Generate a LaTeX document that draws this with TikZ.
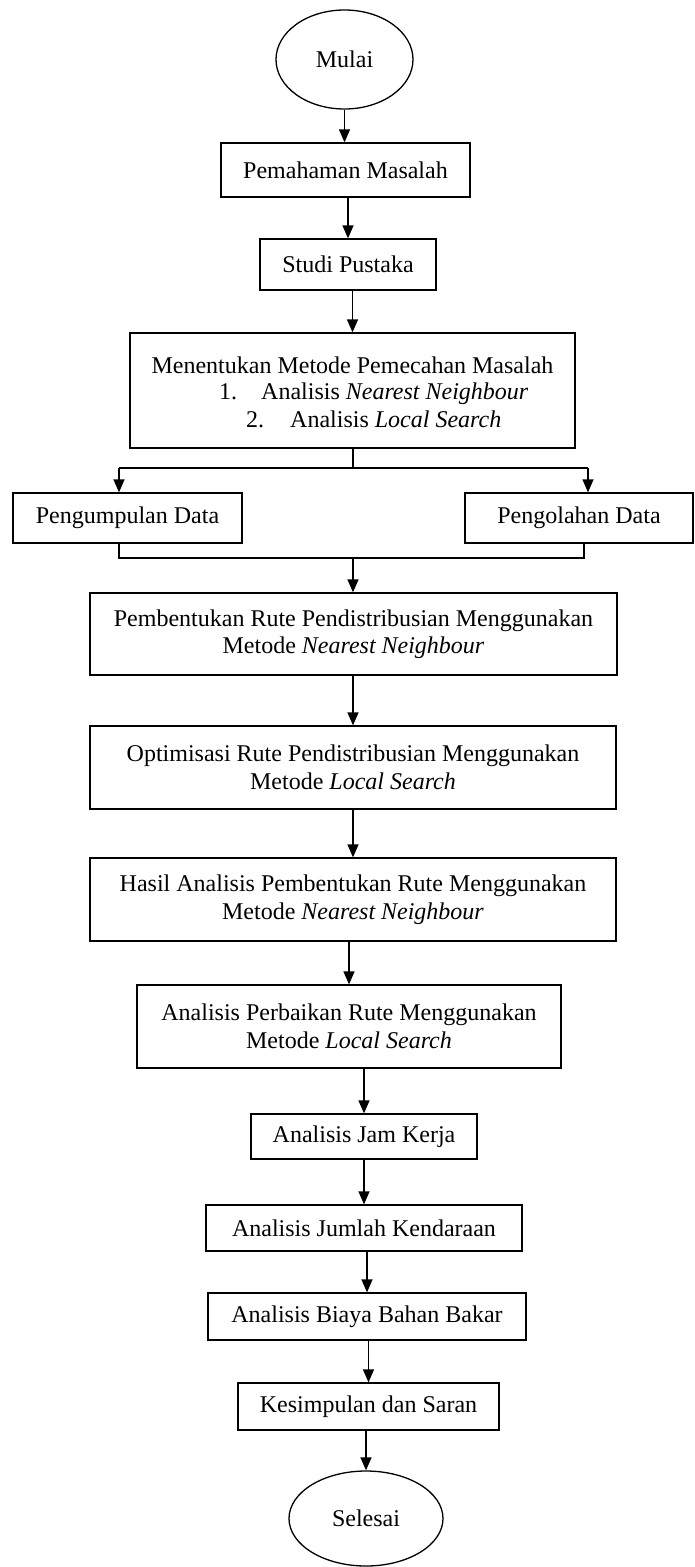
\documentclass[tikz,border=0pt]{standalone}
\usepackage{fontspec}
\setmainfont{Liberation Serif}
\usetikzlibrary{arrows.meta,shapes.geometric}
\newcommand\flowfont{\fontsize{24}{27.5}\selectfont}
\tikzset{
  box/.style={draw, line width=1.3pt, inner sep=0pt, align=center, font=\flowfont},
  oval/.style={draw, ellipse, line width=1.3pt, inner sep=0pt, font=\flowfont},
  txt/.style={inner sep=0pt, font=\flowfont},
  arr/.style={line width=1.3pt, -{Triangle[length=13pt,width=11pt]}},
  ln/.style={line width=1.3pt}
}
\begin{document}
\begin{tikzpicture}[x=1pt,y=-1pt]
\useasboundingbox (0,0) rectangle (694,1567);
\node[oval, minimum width=137, minimum height=99] (mulai) at (344.5,59.5) {Mulai};
\node[box, minimum width=249, minimum height=54] (pem) at (345.5,170) {Pemahaman Masalah};
\node[box, minimum width=176, minimum height=51] (studi) at (348,264.5) {Studi Pustaka};
\node[box, minimum width=445, minimum height=115] (ment) at (352.5,390.5) {};
\node[txt, anchor=base] (m1) at (352.5,373) {Menentukan Metode Pemecahan Masalah};
\node[txt, anchor=base west] (n1) at (219,399) {1.};
\node[txt, anchor=base west] (a1) at (261,399) {Analisis \textit{Nearest Neighbour}};
\node[txt, anchor=base west] (n2) at (246,427) {2.};
\node[txt, anchor=base west] (a2) at (290,427) {Analisis \textit{Local Search}};
\node[box, minimum width=229, minimum height=50] (kump) at (127.5,518) {Pengumpulan Data};
\node[box, minimum width=228, minimum height=50] (olah) at (579,518) {Pengolahan Data};
\node[box, minimum width=527, minimum height=82] (bentuk) at (353.5,634) {Pembentukan Rute Pendistribusian Menggunakan\\Metode \textit{Nearest Neighbour}};
\node[box, minimum width=526, minimum height=83] (opt) at (353,767.5) {Optimisasi Rute Pendistribusian Menggunakan\\Metode \textit{Local Search}};
\node[box, minimum width=526, minimum height=83] (hasil) at (353,899.5) {Hasil Analisis Pembentukan Rute Menggunakan\\Metode \textit{Nearest Neighbour}};
\node[box, minimum width=424, minimum height=83] (baik) at (349,1026.5) {Analisis Perbaikan Rute Menggunakan\\Metode \textit{Local Search}};
\node[box, minimum width=226, minimum height=45] (jam) at (364,1136.5) {Analisis Jam Kerja};
\node[box, minimum width=316, minimum height=46] (jumlah) at (364,1228) {Analisis Jumlah Kendaraan};
\node[box, minimum width=318, minimum height=47] (biaya) at (367,1316.5) {Analisis Biaya Bahan Bakar};
\node[box, minimum width=261, minimum height=47] (simpul) at (368.5,1406.5) {Kesimpulan dan Saran};
\node[oval, minimum width=154, minimum height=95] (selesai) at (366,1518.5) {Selesai};
% straight connectors
\draw[arr] (mulai.south) -- (mulai.south |- pem.north);
\draw[arr] (studi.north |- pem.south) -- (studi.north);
\draw[arr] (ment.north |- studi.south) -- (ment.north);
% split
\coordinate (sp) at (353,468);
\coordinate (spl) at (119,468);
\coordinate (spr) at (588,468);
\draw[ln] (ment.south -| sp) -- (sp);
\draw[ln] (spl) -- (spr);
\draw[arr] (spl) -- (spl |- kump.north);
\draw[arr] (spr) -- (spr |- olah.north);
% merge
\coordinate (ml) at (119,558);
\coordinate (mr) at (584,558);
\coordinate (mc) at (353,558);
\draw[ln] (ml |- kump.south) -- (ml) -- (mr) -- (mr |- olah.south);
\draw[arr] (mc) -- (mc |- bentuk.north);
\draw[arr] (opt.north |- bentuk.south) -- (opt.north);
\draw[arr] (hasil.north |- opt.south) -- (hasil.north);
\draw[arr] (baik.north |- hasil.south) -- (baik.north);
\draw[arr] (jam.north |- baik.south) -- (jam.north);
\draw[arr] (jumlah.north |- jam.south) -- (jumlah.north);
\draw[arr] (biaya.north |- jumlah.south) -- (biaya.north);
\draw[arr] (simpul.north |- biaya.south) -- (simpul.north);
\draw[arr] (selesai.north |- simpul.south) -- (selesai.north);
\end{tikzpicture}
\end{document}
